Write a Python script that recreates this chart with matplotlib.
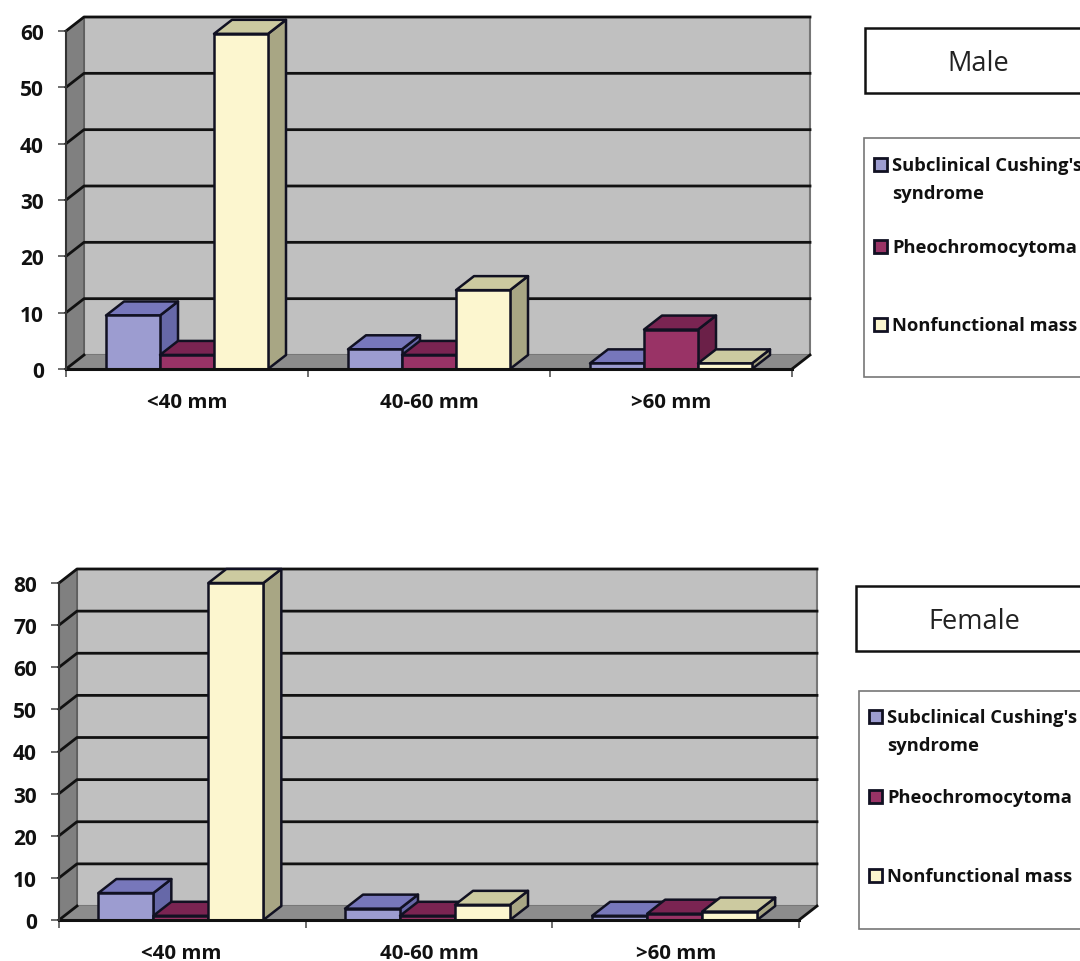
import matplotlib
matplotlib.use('Agg')
import matplotlib.pyplot as plt
from matplotlib.patches import Polygon, Rectangle

plt.rcParams['font.family'] = ['Open Sans', 'DejaVu Sans']

categories = ['<40 mm', '40-60 mm', '>60 mm']
series_names = ["Subclinical Cushing's", 'Pheochromocytoma', 'Nonfunctional mass']

male_cushing = [9.5, 3.5, 1]
male_pheo = [2.5, 2.5, 7]
male_nonfunc = [59.5, 14, 1]
male_ticks = [0, 10, 20, 30, 40, 50, 60]

female_cushing = [6.4, 2.7, 1]
female_pheo = [1, 1, 1.5]
female_nonfunc = [80, 3.6, 2]
female_ticks = [0, 10, 20, 30, 40, 50, 60, 70, 80]

front_colors = ['#9C9CD0', '#993366', '#FCF6CF']
top_colors = ['#7777BB', '#7A2452', '#CCCAA0']
side_colors = ['#6668A8', '#6B2048', '#A8A684']

W, H = 1080, 962
DEPTH_X, DEPTH_Y = 18, 14


def poly(ax, pts, color, z, lw=1.8):
    ax.add_patch(Polygon(pts, closed=True, facecolor=color, edgecolor='#111122',
                         linewidth=lw, zorder=z, clip_on=False, joinstyle='round'))


def draw_chart(left, right, y0, y_top, ymax, ticks, series, bar_px, label_px, shift_px):
    ax = plt.gcf().add_axes([left / W, (H - y0) / H, (right - left) / W, (y0 - y_top) / H])
    ax.set_xlim(0, 3)
    ax.set_ylim(0, ymax)
    ax.patch.set_visible(False)
    for s in ax.spines.values():
        s.set_visible(False)

    # depth of the fake 3d box in data units
    px = 3 / (right - left)
    dx = DEPTH_X * px
    dy = DEPTH_Y * ymax / (y0 - y_top)

    # walls and floor
    ax.add_patch(Polygon([(dx, dy), (3 + dx, dy), (3 + dx, ymax + dy), (dx, ymax + dy)], closed=True,
                         facecolor='#C0C0C0', edgecolor='#777777', linewidth=1.5, zorder=1, clip_on=False))
    ax.add_patch(Polygon([(0, 0), (dx, dy), (dx, ymax + dy), (0, ymax)], closed=True,
                         facecolor='#808080', edgecolor='#555555', linewidth=1, zorder=1, clip_on=False))
    ax.add_patch(Polygon([(0, 0), (3, 0), (3 + dx, dy), (dx, dy)], closed=True,
                         facecolor='#8C8C8C', edgecolor='none', zorder=1, clip_on=False))

    # gridlines run across the back wall and down the side wall
    for t in ticks[1:]:
        ax.plot([0, dx, 3 + dx], [t, t + dy, t + dy], color='#111111', lw=2, zorder=2, clip_on=False)
    ax.plot([0, dx], [0, dy], color='#111111', lw=2, zorder=2, clip_on=False)
    ax.plot([3, 3 + dx], [0, dy], color='#111111', lw=2, zorder=2, clip_on=False)

    # bars go left to right so the later ones hide the side of the earlier ones
    w = bar_px * px
    z = 3
    for c in range(len(categories)):
        for k, vals in enumerate(series):
            x0 = c + 0.5 + (k - 1.5) * w + shift_px[c] * px
            x1 = x0 + w
            v = vals[c]
            poly(ax, [(x1, 0), (x1 + dx, dy), (x1 + dx, v + dy), (x1, v)], side_colors[k], z)
            poly(ax, [(x0, v), (x1, v), (x1 + dx, v + dy), (x0 + dx, v + dy)], top_colors[k], z)
            poly(ax, [(x0, 0), (x1, 0), (x1, v), (x0, v)], front_colors[k], z)
            z += 1

    ax.plot([0, 3], [0, 0], color='#111111', lw=2.2, zorder=20, clip_on=False)
    ax.plot([0, 0], [0, ymax], color='#333333', lw=1.5, zorder=20, clip_on=False)

    ax.set_yticks(ticks)
    ax.set_yticklabels([str(t) for t in ticks], fontsize=15, fontweight='bold', color='#111111')
    ax.set_xticks([0, 1, 2, 3])
    ax.set_xticklabels([])
    ax.tick_params(axis='both', length=6, width=1.2, color='#555555', pad=10)
    for i, name in enumerate(categories):
        ax.annotate(name, xy=(i + 0.5, 0), xycoords='data', xytext=(label_px[i], -33),
                    textcoords='offset pixels', ha='center', va='center',
                    fontsize=14.7, fontweight='bold', color='#111111', annotation_clip=False)
    return ax


draw_fig = plt.figure(figsize=(W / 100, H / 100), dpi=100, facecolor='white')

draw_chart(66, 792, 370, 32, 60, male_ticks, [male_cushing, male_pheo, male_nonfunc], 54, [0, 0, 0], [0, 0, 0])
draw_chart(59, 799, 921, 584, 80, female_ticks, [female_cushing, female_pheo, female_nonfunc], 55,
           [-1, 0, 0], [-1.5, -1.5, -1])

# boxes and legends sit on a pixel overlay, they run off the right edge
overlay = draw_fig.add_axes([0, 0, 1, 1])
overlay.set_xlim(0, W)
overlay.set_ylim(H, 0)
overlay.axis('off')


def side_panel(title_x, title_y, title, title_cx, leg_x, leg_top, leg_bottom, rows):
    overlay.add_patch(Rectangle((title_x, title_y), 240, 65, facecolor='white', edgecolor='#111111', linewidth=1.8))
    overlay.text(title_cx, title_y + 35, title, ha='center', va='center', fontsize=19.5, color='#222222')
    overlay.add_patch(Rectangle((leg_x, leg_top), 240, leg_bottom - leg_top, facecolor='white',
                                edgecolor='#777777', linewidth=1.2))
    for k, (name, y) in enumerate(zip(series_names, rows)):
        overlay.add_patch(Rectangle((leg_x + 10, y - 6), 13, 13, facecolor=front_colors[k],
                                    edgecolor='#111122', linewidth=2))
        overlay.text(leg_x + 28, y + 1, name, ha='left', va='center', fontsize=13.2, fontweight='bold', color='#111111')
    overlay.text(leg_x + 28, rows[0] + 29, 'syndrome', ha='left', va='center', fontsize=13.2,
                 fontweight='bold', color='#111111')


side_panel(865, 29, 'Male', 978, 864, 139, 378, [165, 247, 325])
side_panel(856, 587, 'Female', 974, 859, 692, 930, [717, 797, 876])

draw_fig.savefig('out.png', dpi=100)
